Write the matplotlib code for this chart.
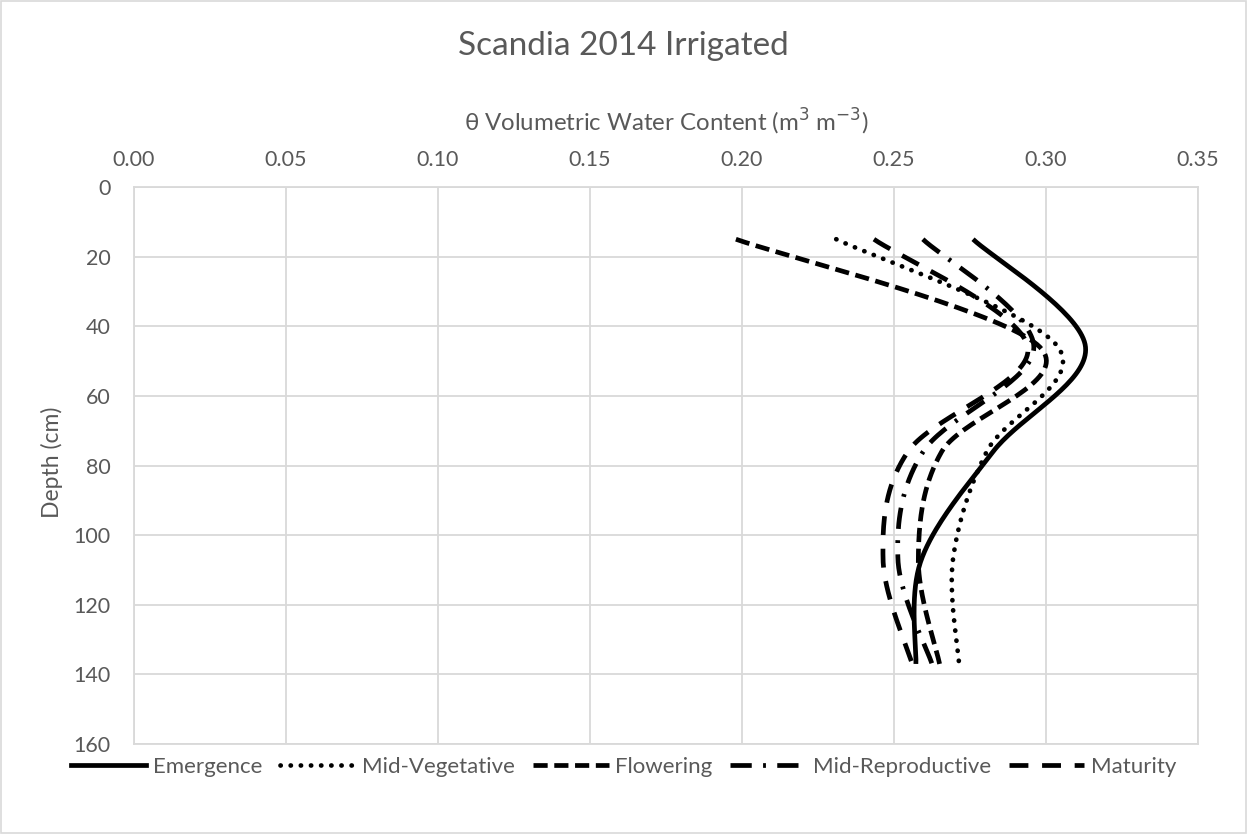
import numpy as np
import matplotlib
matplotlib.use("Agg")
import matplotlib.pyplot as plt
from matplotlib.lines import Line2D

plt.rcParams["font.family"] = ["Lato", "DejaVu Sans"]

# soil moisture profiles, depth in cm, theta in m3/m3
depth = [15, 46, 76, 107, 137]
emergence = [0.276, 0.313, 0.2826, 0.259, 0.2572]
mid_vegetative = [0.231, 0.304, 0.2805, 0.2694, 0.2714]
flowering = [0.198, 0.298, 0.2657, 0.258, 0.265]
mid_reproductive = [0.2595, 0.296, 0.2596, 0.2513, 0.2625]
maturity = [0.2434, 0.294, 0.2546, 0.2464, 0.256]

series_names = ["Emergence", "Mid-Vegetative", "Flowering",
                "Mid-Reproductive", "Maturity"]
series_values = [emergence, mid_vegetative, flowering, mid_reproductive, maturity]

styles = [
    dict(linestyle="-", dash_capstyle="butt"),
    dict(linestyle=(0, (0.05, 2.1)), dash_capstyle="round"),
    dict(linestyle=(0, (3, 1.4)), dash_capstyle="butt"),
    dict(linestyle=(0, (4.5, 2.4, 0.6, 2.4)), dash_capstyle="butt"),
    dict(linestyle=(0, (4, 2.9)), dash_capstyle="butt"),
]

XMAX, YMAX = 0.35, 160
AX_W, AX_H = 1064.0, 557.0


def smooth(xs, ys, n=40):
    # Catmull-Rom style smoothing done in screen-like units
    px = np.array(xs) / XMAX * AX_W
    py = np.array(ys) / YMAX * AX_H
    pts = np.column_stack([px, py])
    out = []
    for i in range(len(pts) - 1):
        p0 = pts[max(i - 1, 0)]
        p1 = pts[i]
        p2 = pts[i + 1]
        p3 = pts[min(i + 2, len(pts) - 1)]
        c1 = p1 + (p2 - p0) / 6.0
        c2 = p2 - (p3 - p1) / 6.0
        t = np.linspace(0, 1, n)[:, None]
        seg = ((1 - t) ** 3) * p1 + 3 * ((1 - t) ** 2) * t * c1 \
            + 3 * (1 - t) * t ** 2 * c2 + t ** 3 * p2
        out.append(seg if i == 0 else seg[1:])
    out = np.vstack(out)
    return out[:, 0] / AX_W * XMAX, out[:, 1] / AX_H * YMAX


text_col = "#595959"
grid_col = "#D9D9D9"
lw = 3.4

fig = plt.figure(figsize=(12.47, 8.34), dpi=100)
ax = fig.add_axes([134 / 1247, 1 - 744 / 834, 1064 / 1247, 557 / 834])

for name, vals, st in zip(series_names, series_values, styles):
    sx, sy = smooth(vals, depth)
    ax.plot(sx, sy, color="black", lw=lw, label=name, solid_capstyle="butt", **st)

ax.set_xlim(0, XMAX)
ax.set_ylim(YMAX, 0)
ax.set_xticks(np.arange(0, 0.351, 0.05))
ax.set_xticklabels([f"{v:.2f}" for v in np.arange(0, 0.351, 0.05)])
ax.set_yticks(np.arange(0, 161, 20))
ax.xaxis.tick_top()
ax.tick_params(axis="both", length=0, labelsize=15.5, colors=text_col)
ax.tick_params(axis="x", pad=12)
ax.tick_params(axis="y", pad=17)
ax.grid(True, color=grid_col, lw=1.3)
ax.set_axisbelow(True)
for sp in ax.spines.values():
    sp.set_color(grid_col)
    sp.set_linewidth(1.3)

# axis titles
fig.text(666 / 1247, 1 - 122 / 834, "θ Volumetric Water Content (m$^3$ m$^{-3}$)",
         ha="center", va="center", fontsize=17.3, color=text_col)
fig.text(52 / 1247, 1 - 462 / 834, "Depth (cm)", rotation=90, ha="center",
         va="center", fontsize=16.5, color=text_col)

fig.text(0.5, 1 - 46 / 834, "Scandia 2014 Irrigated", ha="center", va="center",
         fontsize=24, color=text_col)

handles = [Line2D([0], [0], color="black", lw=lw, **st) for st in styles]
fig.legend(handles, series_names, loc="center", bbox_to_anchor=(0.5, 1 - 767 / 834),
           ncol=5, frameon=False, fontsize=16, handlelength=3.4,
           columnspacing=0.8, handletextpad=0.3, labelcolor=text_col)

# thin chart-area border
fig.patches.append(plt.Rectangle((0.0005, 0.0008), 0.999, 0.9985,
                                 transform=fig.transFigure, fill=False,
                                 edgecolor=grid_col, lw=1.2))

fig.savefig("out.png", dpi=100, facecolor="white")
